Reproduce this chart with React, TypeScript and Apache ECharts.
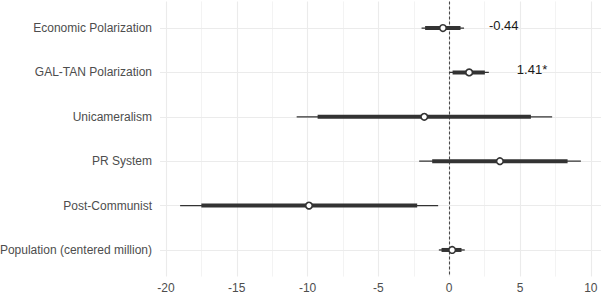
import React, { useEffect, useRef } from "react";
import * as echarts from "echarts";

const categories = [
  "Economic Polarization",
  "GAL-TAN Polarization",
  "Unicameralism",
  "PR System",
  "Post-Communist",
  "Population (centered million)",
];
const estimates = [-0.44, 1.41, -1.76, 3.58, -9.9, 0.21];
const lower95 = [-1.95, 0.0, -10.77, -2.12, -19.0, -0.73];
const upper95 = [1.05, 2.8, 7.27, 9.3, -0.78, 1.1];
const lower90 = [-1.7, 0.24, -9.29, -1.2, -17.5, -0.54];
const upper90 = [0.8, 2.52, 5.77, 8.36, -2.26, 0.87];

const labelRows = [0, 1];
const labelTexts = ["-0.44", "1.41*"];
const labelX = [3.85, 5.85];

const xTicks = [-20, -15, -10, -5, 0, 5, 10];
const xMinor = [-17.5, -12.5, -7.5, -2.5, 2.5, 7.5];

const FONT = "'Liberation Sans', Arial, sans-serif";

export default function App() {
  const ref = useRef<HTMLDivElement>(null);
  useEffect(() => {
    if (!ref.current) return;
    const chart = echarts.init(ref.current, null, { renderer: "svg" });
    const rows = categories.map((_, i) => i);
    const gridStyle = { color: "#ebebeb", type: "solid" as const };
    const option: any = {
      animation: false,
      grid: {
        left: 160,
        right: 2,
        top: 1.4,
        bottom: 17.4,
        containLabel: false,
        outerBoundsMode: "none",
      },
      xAxis: {
        type: "value",
        min: -20.42,
        max: 10.72,
        axisLine: { show: false },
        axisTick: { show: false },
        splitLine: { show: false },
        axisLabel: {
          customValues: xTicks,
          color: "#4d4d4d",
          fontSize: 12,
          fontFamily: FONT,
          margin: 5,
        },
      },
      yAxis: {
        type: "value",
        min: -0.6,
        max: 5.6,
        inverse: true,
        axisLine: { show: false },
        axisTick: { show: false },
        splitLine: { show: false },
        axisLabel: {
          customValues: rows,
          formatter: (v: number) => categories[Math.round(v)] ?? "",
          color: "#4d4d4d",
          fontSize: 12,
          fontFamily: FONT,
          margin: 8,
        },
      },
      series: [
        {
          type: "line",
          data: [],
          silent: true,
          z: 0,
          markLine: {
            silent: true,
            z: 0,
            symbol: "none",
            label: { show: false },
            animation: false,
            data: [
              ...xTicks.map((v) => ({ xAxis: v, lineStyle: { ...gridStyle, width: 1.1 } })),
              ...xMinor.map((v) => ({ xAxis: v, lineStyle: { ...gridStyle, width: 0.6 } })),
              ...rows.map((v) => ({ yAxis: v, lineStyle: { ...gridStyle, width: 1.1 } })),
            ],
          },
        },
        {
          type: "line",
          data: [],
          silent: true,
          z: 1,
          markLine: {
            silent: true,
            z: 1,
            symbol: "none",
            label: { show: false },
            animation: false,
            data: [{ xAxis: 0, lineStyle: { color: "#4a4a4a", type: [3, 2], width: 1.1 } }],
          },
        },
        {
          type: "custom",
          z: 10,
          silent: true,
          data: rows.map((i) => [lower95[i], upper95[i], lower90[i], upper90[i], estimates[i], i]),
          renderItem: (_params: any, api: any) => {
            const r = api.value(5);
            const a = api.coord([api.value(0), r]);
            const b = api.coord([api.value(1), r]);
            const c = api.coord([api.value(2), r]);
            const d = api.coord([api.value(3), r]);
            const p = api.coord([api.value(4), r]);
            return {
              type: "group",
              children: [
                {
                  type: "line",
                  z2: 1,
                  shape: { x1: a[0], y1: a[1], x2: b[0], y2: b[1] },
                  style: { stroke: "#333333", lineWidth: 1.3 },
                },
                {
                  type: "line",
                  z2: 2,
                  shape: { x1: c[0], y1: c[1], x2: d[0], y2: d[1] },
                  style: { stroke: "#333333", lineWidth: 4 },
                },
                {
                  type: "circle",
                  z2: 3,
                  shape: { cx: p[0], cy: p[1], r: 3.3 },
                  style: { fill: "#ffffff", stroke: "#333333", lineWidth: 1.6 },
                },
              ],
            };
          },
        },
        {
          type: "custom",
          z: 11,
          silent: true,
          data: labelRows.map((r, k) => [labelX[k], r, k]),
          renderItem: (_params: any, api: any) => {
            const p = api.coord([api.value(0), api.value(1)]);
            const k = api.value(2);
            return {
              type: "text",
              x: p[0],
              y: p[1] - 3,
              style: {
                text: labelTexts[k],
                fill: "#1a1a1a",
                fontSize: 13,
                fontFamily: FONT,
                align: "center",
                verticalAlign: "middle",
              },
            };
          },
        },
      ],
    };
    chart.setOption(option);
    return () => chart.dispose();
  }, []);
  return (
    <div
      ref={ref}
      style={{ position: "absolute", left: 0, top: 0, width: 603, height: 294, background: "#ffffff" }}
    />
  );
}
